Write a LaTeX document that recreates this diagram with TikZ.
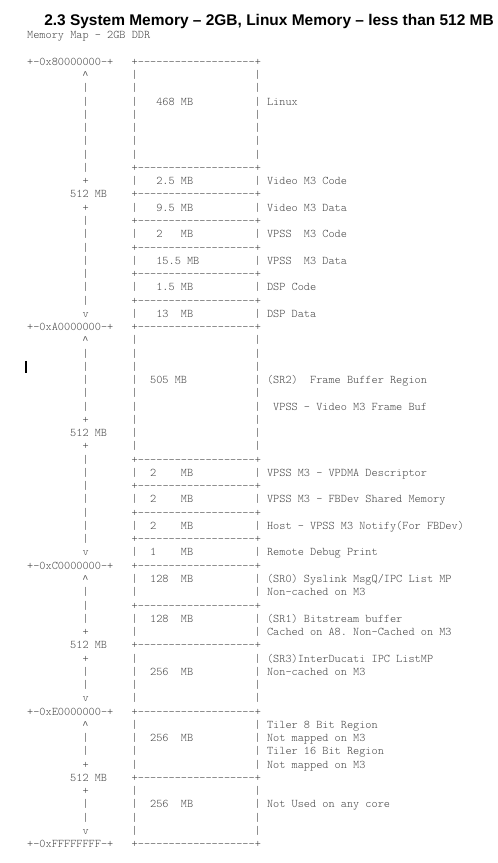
\documentclass[tikz,border=0pt]{standalone}
\usepackage{fontspec}
\usepackage{tikz}
\usepackage{xcolor}

\newfontfamily\headfont{Liberation Sans}
\newfontfamily\caretfont{Liberation Mono}
\newcommand{\mapfont}{\fontseries{l}\ttfamily\fontsize{8.79pt}{9.95pt}\selectfont\frenchspacing}
\newcommand{\edgeline}{+\foreach \i in {1,...,19}{\hbox{-}}+}
\definecolor{ink}{gray}{0.28}

\tikzset{
    ascii/.style={font=\mapfont,text=ink,inner sep=0pt,anchor=mid west},
    caret/.style={font=\caretfont\fontsize{7.7pt}{9.95pt}\selectfont,
        text=ink,inner sep=0pt,anchor=mid}
}

\begin{document}
\begin{tikzpicture}[x=4.6125pt,y=-9.945pt]
\path [use as bounding box,fill=white]
    (-22.5pt,46.875pt) rectangle (350.25pt,-600.375pt);

\path
    (10.5pt,27.4pt) node [anchor=base west,inner sep=0pt,
        font=\headfont\bfseries\fontsize{11.6pt}{14pt}\selectfont] (title)
    {2.3 System Memory – 2GB, Linux Memory – less than 512 MB};
\path
    [ascii]
    (-0.5,-2) node (maphead) {Memory Map - 2GB DDR}
    (-0.5,0) node (addr8) {+-0x80000000-+}
    (-0.5,20) node (addrA) {+-0xA0000000-+}
    (-0.5,38) node (addrC) {+-0xC0000000-+}
    (-0.5,49) node (addrE) {+-0xE0000000-+}
    (-0.5,59) node (addrF) {+-0xFFFFFFFF-+};

\foreach \n in {1,21,39,50}
    \path [caret] (9,\n) node (up\n) {\string^};
\foreach \n in {19,37,48,58}
    \path [ascii] (8.5,\n) node (down\n) {v};
\foreach \n in {9,11,27,29,43,45,53,55}
    \path [ascii] (8.5,\n) node (tick\n) {+};
\foreach \n in {10,28,44,54}
    \path [ascii] (6.5,\n) node (half\n) {512 MB};
\foreach \n in {2,3,4,5,6,7,8,12,13,14,15,16,17,18,22,23,24,25,26,
        30,31,32,33,34,35,36,40,41,42,46,47,51,52,56,57}
    \path [ascii] (8.5,\n) node (span\n) {|};

\foreach \n in {0,8,10,12,14,16,18,20,30,32,34,36,38,41,44,49,54,59}
    \path [ascii] (16.5,\n) node (edge\n) {\edgeline};
\foreach \n in {1,2,3,4,5,6,7,9,11,13,15,17,19,21,22,23,24,25,26,27,28,29,
        31,33,35,37,39,40,42,43,45,46,47,48,50,51,52,53,55,56,57,58}
    \path [ascii] (16.5,\n) node (lside\n) {|} (36.5,\n) node (rside\n) {|};

\path
    [ascii]
    (20.5,3) node (linux) {468 MB}
    (20.5,9) node (vcode) {2.5 MB}
    (20.5,11) node (vdata) {9.5 MB}
    (20.5,13) node (pcode) {2~~~MB}
    (20.5,15) node (pdata) {15.5 MB}
    (20.5,17) node (dcode) {1.5 MB}
    (20.5,19) node (ddata) {13~~MB}
    (19.5,24) node (fbuf) {505 MB}
    (19.5,31) node (vpdma) {2~~~~MB}
    (19.5,33) node (fbdev) {2~~~~MB}
    (19.5,35) node (notify) {2~~~~MB}
    (19.5,37) node (debug) {1~~~~MB}
    (19.5,39) node (sr0) {128~~MB}
    (19.5,42) node (sr1) {128~~MB}
    (19.5,46) node (sr3) {256~~MB}
    (19.5,51) node (tiler) {256~~MB}
    (19.5,56) node (unused) {256~~MB};

\path
    [ascii]
    (38.5,3) node (linuxnote) {Linux}
    (38.5,9) node (vcodenote) {Video M3 Code}
    (38.5,11) node (vdatanote) {Video M3 Data}
    (38.5,13) node (pcodenote) {VPSS~~M3 Code}
    (38.5,15) node (pdatanote) {VPSS~~M3 Data}
    (38.5,17) node (dcodenote) {DSP Code}
    (38.5,19) node (ddatanote) {DSP Data}
    (38.5,24) node (fbufnote) {(SR2)~~Frame Buffer Region}
    (39.5,26) node (fbufuse) {VPSS - Video M3 Frame Buf}
    (38.5,31) node (vpdmanote) {VPSS M3 - VPDMA Descriptor}
    (38.5,33) node (fbdevnote) {VPSS M3 - FBDev Shared Memory}
    (38.5,35) node (notifynote) {Host - VPSS M3 Notify(For FBDev)}
    (38.5,37) node (debugnote) {Remote Debug Print}
    (38.5,39) node (sr0note) {(SR0) Syslink MsgQ/IPC List MP}
    (38.5,40) node (sr0cache) {Non-cached on M3}
    (38.5,42) node (sr1note) {(SR1) Bitstream buffer}
    (38.5,43) node (sr1cache) {Cached on A8. Non-Cached on M3}
    (38.5,45) node (sr3note) {(SR3)InterDucati IPC ListMP}
    (38.5,46) node (sr3cache) {Non-cached on M3}
    (38.5,50) node (tiler8) {Tiler 8 Bit Region}
    (38.5,51) node (tiler8map) {Not mapped on M3}
    (38.5,52) node (tiler16) {Tiler 16 Bit Region}
    (38.5,53) node (tiler16map) {Not mapped on M3}
    (38.5,56) node (unusednote) {Not Used on any core};

\draw [line width=1.3pt] (-0.65,22.5) -- (-0.65,23.45);
\end{tikzpicture}
\end{document}
